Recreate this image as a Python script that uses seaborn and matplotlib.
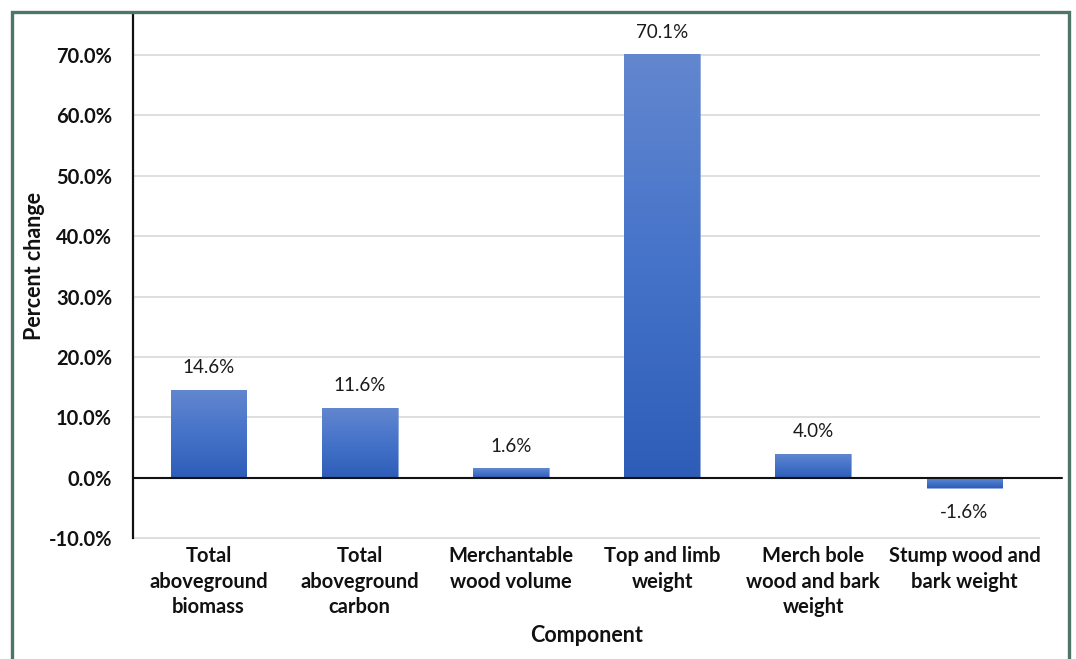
import numpy as np
import pandas as pd
import matplotlib
matplotlib.use("Agg")
import matplotlib.pyplot as plt
from matplotlib.colors import LinearSegmentedColormap
from matplotlib.patches import Rectangle
import seaborn as sns

# Percent change by component
components = [
    "Total\naboveground\nbiomass",
    "Total\naboveground\ncarbon",
    "Merchantable\nwood volume",
    "Top and limb\nweight",
    "Merch bole\nwood and bark\nweight",
    "Stump wood and\nbark weight",
]
pct_change = [14.6, 11.6, 1.6, 70.1, 4.0, -1.6]
y_ticks = [-10, 0, 10, 20, 30, 40, 50, 60, 70]

df = pd.DataFrame({"Component": components, "Percent change": pct_change})

sns.set_theme(style="white")
plt.rcParams["font.family"] = ["Lato", "DejaVu Sans"]

W, H = 1076, 659
fig = plt.figure(figsize=(W / 100, H / 100), dpi=100)
fig.patch.set_facecolor("white")

# plot area in pixel terms
left_px, right_px, top_px, bottom_px = 133, 1040, 13, 539.5
ax = fig.add_axes([left_px / W, 1 - bottom_px / H,
                   (right_px - left_px) / W, (bottom_px - top_px) / H])

sns.barplot(data=df, x="Component", y="Percent change", ax=ax,
            color="#4472c4", width=0.5, zorder=3)

ax.set_yticks(y_ticks)
ax.set_yticklabels([f"{v:.1f}%" for v in y_ticks])

# vertical gradient fill for every bar
cmap = LinearSegmentedColormap.from_list("barfill", ["#2e5db8", "#4573c9", "#6387cf"])
grad = np.linspace(0, 1, 256).reshape(-1, 1)
for p in ax.patches:
    x0, y0 = p.get_x(), p.get_y()
    w, h = p.get_width(), p.get_height()
    ylo, yhi = min(y0, y0 + h), max(y0, y0 + h)
    img = ax.imshow(grad, cmap=cmap, origin="lower", aspect="auto",
                    extent=[x0, x0 + w, ylo, yhi], zorder=3)
    img.set_clip_path(p)
    p.set_facecolor("none")
    p.set_edgecolor("#7d9ad6")
    p.set_linewidth(0.6)
ax.set_xlim(-0.5, len(components) - 0.5)
ax.set_ylim(-10.18, 76.9)

# value labels
for i, v in enumerate(pct_change):
    off = 15.8 if v >= 0 else -18
    ax.annotate(f"{v:.1f}%", xy=(i, v), xytext=(0, off), textcoords="offset points",
                ha="center", va="center", fontsize=13.5, color="#1a1a1a", zorder=5)

# grid and axes styling
ax.yaxis.grid(True, color="#d9d9d9", linewidth=1.2, zorder=0)
ax.xaxis.grid(False)
for s in ["top", "right", "bottom"]:
    ax.spines[s].set_visible(False)
ax.spines["left"].set_color("#111111")
ax.spines["left"].set_linewidth(1.6)
ax.spines["left"].set_zorder(4)
ax.spines["left"].set_bounds(-10, 76.9)
ax.tick_params(axis="both", length=0)
ax.tick_params(axis="y", pad=15, labelsize=14.5)
ax.tick_params(axis="x", pad=5, labelsize=14.5)
for lab in ax.get_yticklabels() + ax.get_xticklabels():
    lab.set_fontweight("bold")
    lab.set_color("#111111")
for lab in ax.get_xticklabels():
    lab.set_linespacing(1.33)

# zero baseline running a little past the plot area
ax.plot([0, (1062 - left_px) / (right_px - left_px)], [0, 0], color="#111111",
        linewidth=1.5, transform=ax.get_yaxis_transform(), clip_on=False, zorder=4)

ax.set_xlabel("Component", fontsize=15.5, fontweight="bold", color="#111111", labelpad=6)
ax.set_ylabel("Percent change", fontsize=15.5, fontweight="bold", color="#111111")
ax.yaxis.label.set_va("center")
ax.yaxis.set_label_coords((35 - left_px) / (right_px - left_px), 0.52)

# outer frame
fig.patches.append(Rectangle((12 / W, -0.1), (1069 - 12) / W, 1 - 12 / H + 0.1,
                             transform=fig.transFigure, fill=False,
                             edgecolor="#4e7565", linewidth=2.4, zorder=10))

fig.savefig("out.png", dpi=100)
